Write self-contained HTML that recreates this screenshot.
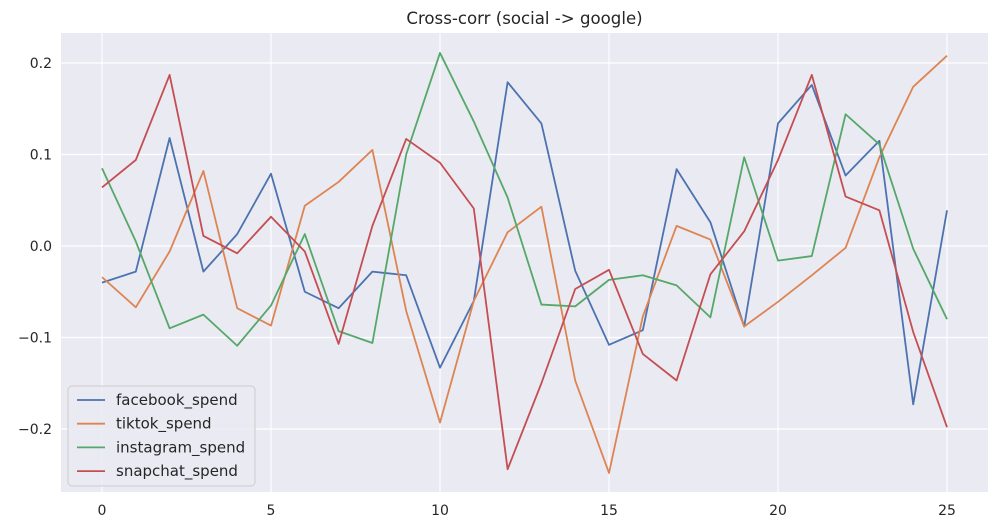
<!DOCTYPE html>
<html><head><meta charset="utf-8">
<style>
html,body{margin:0;padding:0;background:#fff;}
svg{display:block;font-family:"DejaVu Sans","Liberation Sans",sans-serif;}
</style></head>
<body>
<svg id="chart" width="1000" height="532"></svg>
<script>
const lags = [0,1,2,3,4,5,6,7,8,9,10,11,12,13,14,15,16,17,18,19,20,21,22,23,24,25];
const facebook = [-0.04,-0.028,0.118,-0.028,0.013,0.079,-0.05,-0.068,-0.028,-0.032,-0.133,-0.06,0.179,0.134,-0.027,-0.108,-0.092,0.084,0.026,-0.088,0.134,0.176,0.077,0.115,-0.173,0.039];
const tiktok = [-0.034,-0.067,-0.006,0.082,-0.068,-0.087,0.044,0.07,0.105,-0.071,-0.193,-0.06,0.015,0.043,-0.147,-0.248,-0.077,0.022,0.007,-0.088,-0.061,-0.032,-0.002,0.097,0.174,0.208];
const instagram = [0.085,0.005,-0.09,-0.075,-0.109,-0.065,0.013,-0.093,-0.106,0.1,0.211,0.136,0.053,-0.064,-0.066,-0.037,-0.032,-0.043,-0.078,0.097,-0.016,-0.011,0.144,0.111,-0.003,-0.08];
const snapchat = [0.064,0.094,0.187,0.011,-0.008,0.032,-0.006,-0.107,0.022,0.117,0.091,0.041,-0.244,-0.15,-0.047,-0.026,-0.118,-0.147,-0.031,0.016,0.094,0.187,0.054,0.039,-0.094,-0.198];
const seriesNames = ["facebook_spend","tiktok_spend","instagram_spend","snapchat_spend"];
const xTicks = [0,5,10,15,20,25];
const yTicks = [0.2,0.1,0.0,-0.1,-0.2];
const yTickLabels = ["0.2","0.1","0.0","\u22120.1","\u22120.2"];

const NS="http://www.w3.org/2000/svg";
const svg=document.getElementById('chart');
const L=61,R=988,T=33,B=492;
const x=v=>102+(v-0)*(947-102)/25;
const y=v=>246-v*915;
function mk(tag,attrs,parent){const e=document.createElementNS(NS,tag);for(const k in attrs)e.setAttribute(k,attrs[k]);(parent||svg).appendChild(e);return e;}

const bg=mk('rect',{x:L,y:T,width:R-L,height:B-T,fill:'#eaeaf2'});



xTicks.forEach(t=>{
  const g=mk('line',{x1:x(t),x2:x(t),y1:T,y2:B,stroke:'#fff','stroke-width':1.2});
  
  
  const lb=mk('text',{x:x(t),y:B+23,'text-anchor':'middle','font-size':14,fill:'#262626'});
  lb.textContent=t;
  
  
});
yTicks.forEach((t,i)=>{
  const g=mk('line',{x1:L,x2:R,y1:y(t),y2:y(t),stroke:'#fff','stroke-width':1.2});
  
  
  const lb=mk('text',{x:L-9,y:y(t)+5,'text-anchor':'end','font-size':14,fill:'#262626'});
  lb.textContent=yTickLabels[i];
  
  
});

const title=mk('text',{x:(L+R)/2,y:24,'text-anchor':'middle','font-size':16.6,fill:'#262626'});
title.textContent='Cross-corr (social -> google)';



const colors=['#4c72b0','#dd8452','#55a868','#c44e52'];
[facebook,tiktok,instagram,snapchat].forEach((s,i)=>{
  const p=mk('polyline',{points:s.map((v,j)=>x(lags[j])+','+y(v)).join(' '),fill:'none',stroke:colors[i],'stroke-width':1.8,'stroke-linejoin':'round'});
  
  
});

const lg=mk('g',{});


mk('rect',{x:68,y:386,width:187,height:100,rx:4,fill:'#eaeaf2','fill-opacity':0.8,stroke:'#cccccc'},lg);
seriesNames.forEach((n,i)=>{
  const yy=400+i*23.7;
  const ln=mk('line',{x1:77,x2:105,y1:yy,y2:yy,stroke:colors[i],'stroke-width':1.8},lg);
  
  
  const t=mk('text',{x:116,y:yy+5,'font-size':15,fill:'#262626'},lg);
  t.textContent=n;
  
  
});
</script>
</body></html>
